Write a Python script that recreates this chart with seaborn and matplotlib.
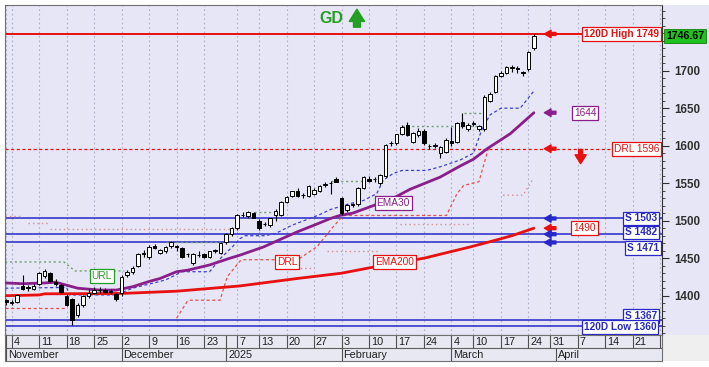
import numpy as np
import pandas as pd
import matplotlib
matplotlib.use("Agg")
import matplotlib.pyplot as plt
import matplotlib.transforms as mtransforms
from matplotlib.patches import Rectangle
import seaborn as sns

# ---------------- data ----------------
first_idx = -1  # first candle is one trading day before the "4" (Nov 4) tick
opens = [1394, 1390, 1392, 1413, 1410, 1409, 1416, 1426, 1430, 1418, 1414, 1400, 1395, 1374, 1388, 1400, 1404, 1407, 1408, 1405, 1402,
         1403, 1427, 1431, 1440, 1455, 1451, 1466, 1457, 1459, 1466, 1466, 1463, 1455, 1443, 1454, 1455, 1452, 1460, 1457,
         1471, 1482, 1490, 1508, 1506, 1510, 1500, 1495, 1494, 1508, 1508, 1525, 1533, 1540, 1534, 1533, 1536, 1540, 1548, 1550, 1555,
         1530, 1514, 1521, 1522, 1544, 1556, 1555, 1550, 1560, 1603, 1603, 1616, 1628, 1605, 1614, 1620, 1599, 1601, 1590, 1592,
         1606, 1605, 1631, 1622, 1629, 1622, 1622, 1660, 1672, 1693, 1697, 1705, 1703, 1698, 1702, 1730]
highs = [1396, 1394, 1402, 1428, 1414, 1415, 1431, 1436, 1432, 1422, 1416, 1402, 1397, 1390, 1401, 1409, 1411, 1411, 1410, 1409, 1404,
         1427, 1434, 1439, 1457, 1461, 1467, 1469, 1462, 1466, 1472, 1468, 1465, 1457, 1457, 1459, 1457, 1460, 1462, 1471,
         1483, 1491, 1509, 1512, 1513, 1512, 1502, 1498, 1504, 1516, 1526, 1533, 1540, 1543, 1537, 1547, 1543, 1547, 1552, 1553, 1558,
         1532, 1522, 1523, 1545, 1559, 1559, 1558, 1562, 1602, 1606, 1616, 1627, 1631, 1618, 1624, 1622, 1602, 1603, 1599, 1610,
         1625, 1631, 1643, 1630, 1633, 1628, 1667, 1671, 1694, 1699, 1706, 1707, 1706, 1700, 1726, 1749]
lows = [1388, 1387, 1390, 1407, 1406, 1407, 1414, 1424, 1418, 1413, 1403, 1386, 1361, 1372, 1385, 1397, 1402, 1403, 1403, 1402, 1393,
        1400, 1425, 1429, 1438, 1452, 1449, 1462, 1455, 1457, 1464, 1460, 1450, 1452, 1441, 1451, 1450, 1450, 1457, 1455,
        1469, 1480, 1488, 1505, 1504, 1503, 1488, 1493, 1492, 1500, 1506, 1523, 1531, 1532, 1530, 1531, 1534, 1538, 1545, 1536, 1551,
        1508, 1512, 1518, 1520, 1542, 1551, 1552, 1548, 1558, 1600, 1601, 1614, 1613, 1603, 1612, 1601, 1596, 1597, 1583, 1590,
        1600, 1603, 1624, 1620, 1626, 1620, 1620, 1658, 1670, 1691, 1695, 1698, 1697, 1693, 1700, 1728]
closes = [1391, 1392, 1401, 1409, 1411, 1413, 1430, 1433, 1420, 1416, 1405, 1388, 1368, 1388, 1399, 1404, 1408, 1407, 1405, 1405, 1395,
          1425, 1431, 1437, 1456, 1457, 1465, 1464, 1461, 1465, 1471, 1465, 1452, 1455, 1456, 1454, 1452, 1459, 1460, 1470,
          1482, 1490, 1508, 1507, 1511, 1504, 1490, 1496, 1503, 1513, 1525, 1532, 1539, 1533, 1534, 1546, 1541, 1546, 1549, 1550, 1552,
          1510, 1521, 1521, 1544, 1558, 1553, 1555, 1561, 1601, 1604, 1615, 1625, 1614, 1617, 1620, 1603, 1599, 1600, 1598, 1608,
          1603, 1630, 1626, 1628, 1630, 1626, 1665, 1669, 1693, 1697, 1705, 1703, 1702, 1697, 1725, 1746.67]

ema30_x = [-1.2, 2, 6, 8, 10, 12, 16, 19, 22, 25, 27, 30, 32, 36, 39.7, 41.5, 45.8, 51.9, 55, 58, 59.7, 62, 65, 69.4, 72.5,
           77.9, 81.6, 84, 86.5, 90.7, 95]
ema30_v = [1417, 1416, 1417, 1418, 1414, 1410, 1407.5, 1407.5, 1412, 1419, 1423, 1432, 1434, 1441, 1450, 1454, 1465, 1485, 1494,
           1503, 1507, 1510, 1518, 1530, 1542, 1558, 1573, 1582, 1596, 1616, 1644]
ema200_x = [-1.2, 5, 6, 20, 30, 41.5, 52, 60, 65.7, 75, 83.4, 87, 91, 95]
ema200_v = [1400, 1401, 1402.5, 1403, 1406, 1413, 1423, 1430, 1438, 1450, 1465, 1472, 1480, 1490]
band_x = [-1.2, 10, 10.5, 19, 20, 22, 28, 31, 36, 38, 40, 41.5, 42.5, 46, 48, 51, 56, 58, 61.6, 64, 66.4, 67.6, 69.4, 71,
          75.5, 78, 81.6, 84, 85.5, 87, 89, 92.5, 95]
band_v = [1410, 1411, 1401, 1401, 1404, 1410, 1421, 1432, 1432, 1450, 1464, 1476, 1480, 1480, 1483, 1494, 1508, 1515, 1523,
          1527, 1536, 1554, 1563, 1567, 1567, 1572, 1581, 1590, 1621, 1641, 1650, 1650, 1673]
drl_seg = [0, 0, 1, 1, 1, 1, 1, 1, 1, 1, 1, 1, 1, 1, 1, 1, 1, 1, 1]
drl_x = [-1.2, 10, 30, 31.9, 32.5, 37.9, 39.2, 41.5, 42, 52, 55.5, 58.5, 59.7, 60.5, 79.1, 81, 82.2, 85, 86.7]
drl_v = [1383, 1383, 1370, 1392, 1394, 1394, 1425, 1446, 1448, 1448, 1465, 1492, 1502, 1507, 1507, 1536, 1547, 1552, 1596]
url_x = [-1.2, 9.5, 11.5, 20.5]
url_v = [1445, 1445, 1433, 1433]
res_seg = [0, 0, 1, 1, 2, 2, 3, 3, 4, 4]
res_x = [28, 39, 44, 48, 58, 64, 71, 85.5, 82.2, 85.5]
res_v = [1471, 1471, 1512, 1512, 1553, 1553, 1626, 1626, 1643, 1643]
sup_seg = [0, 0, 1, 1, 2, 2, 3, 3, 4, 4, 5, 5, 6, 6, 6]
sup_x = [-1.2, 1.5, 3, 7, 7, 41.5, 50, 55, 57.3, 67, 70.7, 83.4, 89.4, 93, 94.7]
sup_v = [1506, 1506, 1497, 1497, 1489, 1489, 1436.5, 1436.5, 1460, 1460, 1495, 1495, 1534, 1534, 1554]

high_120d = 1749
low_120d = 1360
drl_level = 1596
supports = [1503, 1482, 1471, 1367]
last_close = 1746.67
ema30_last = 1644
ema200_last = 1490

week_pos = [-1, 0, 5, 10, 15, 20, 25, 30, 35, 41, 45, 50, 55, 60, 65, 70, 75, 80, 84, 89, 94, 98, 103, 108, 113, 118]
week_lab = ["", "4", "11", "18", "25", "2", "9", "16", "23", "7", "13", "20", "27", "3", "10", "17", "24",
            "4", "10", "17", "24", "31", "7", "14", "21", ""]
month_pos = [-1, 20, 39, 60, 80, 99]
month_lab = ["November", "December", "2025", "February", "March", "April"]

# ---------------- style ----------------
sns.set_theme(style="white")
plt.rcParams['font.family'] = ['Liberation Sans', 'DejaVu Sans']

W, H = 709, 367
fig = plt.figure(figsize=(W / 100, H / 100), dpi=100)
fig.patch.set_facecolor('white')


def fx(px):
    return px / W


def fy(py):
    return 1 - py / H


BG = '#E6E6F6'
RED = '#E81010'
BLUE = '#2828C8'
PURPLE = '#8A1E8A'
GREEN = '#23A023'

fig.patches.append(Rectangle((fx(662), fy(335)), fx(709) - fx(662), fy(5) - fy(335),
                             transform=fig.transFigure, fc=BG, ec='none', zorder=-5))
fig.patches.append(Rectangle((fx(662), fy(361)), fx(709) - fx(662), fy(335) - fy(361),
                             transform=fig.transFigure, fc='#EFEFEF', ec='none', zorder=-5))

ax = fig.add_axes([fx(5), fy(335), fx(662) - fx(5), fy(5) - fy(335)])
axb = fig.add_axes([fx(5), fy(361), fx(662) - fx(5), fy(335) - fy(361)])

XMIN, XMAX = -1.22, 118.3
YMIN, YMAX = 1347.6, 1787.6
ax.set_facecolor(BG)
ax.set_xlim(XMIN, XMAX)
ax.set_ylim(YMIN, YMAX)

# weekly dotted grid
for p in week_pos:
    ax.axvline(p, color='#B0B0CC', lw=0.8, ls=(0, (1.5, 2.5)), zorder=0.5)

# horizontal levels
ax.axhline(high_120d, color=RED, lw=1.4, zorder=2)
ax.axhline(drl_level, color=RED, lw=0.9, ls=(0, (2.5, 2)), zorder=2)
for s in supports + [low_120d]:
    ax.axhline(s, color=BLUE, lw=1.1, zorder=2)

# indicator lines
df_ema30 = pd.DataFrame({'x': ema30_x, 'v': ema30_v})
df_ema200 = pd.DataFrame({'x': ema200_x, 'v': ema200_v})
df_band = pd.DataFrame({'x': band_x, 'v': band_v})
df_drl = pd.DataFrame({'x': drl_x, 'v': drl_v, 'seg': drl_seg})
df_url = pd.DataFrame({'x': url_x, 'v': url_v})
df_res = pd.DataFrame({'x': res_x, 'v': res_v, 'seg': res_seg})
df_sup = pd.DataFrame({'x': sup_x, 'v': sup_v, 'seg': sup_seg})

sns.lineplot(data=df_sup, x='x', y='v', units='seg', estimator=None, ax=ax, color='#D89090',
             lw=1.0, ls=(0, (1, 2.2)), zorder=2.5)
sns.lineplot(data=df_res, x='x', y='v', units='seg', estimator=None, ax=ax, color='#70A070',
             lw=1.0, ls=(0, (1.5, 2)), zorder=2.5)
sns.lineplot(data=df_url, x='x', y='v', ax=ax, color='#70A070', lw=1.0, ls=(0, (1.5, 2)), zorder=2.5)
sns.lineplot(data=df_drl, x='x', y='v', units='seg', estimator=None, ax=ax, color='#E85050',
             lw=0.9, ls=(0, (2.5, 2)), zorder=2.6)
sns.lineplot(data=df_band, x='x', y='v', ax=ax, color='#4040D0', lw=0.9, ls=(0, (2.5, 2)), zorder=2.6)
sns.lineplot(data=df_ema200, x='x', y='v', ax=ax, color=RED, lw=2.0, zorder=3)
sns.lineplot(data=df_ema30, x='x', y='v', ax=ax, color=PURPLE, lw=2.0, zorder=3)

# candles
cx = np.arange(first_idx, first_idx + len(opens))
o = np.array(opens, float)
c = np.array(closes, float)
h = np.array(highs, float)
l = np.array(lows, float)
ax.vlines(cx, l, h, color='black', lw=0.8, zorder=4)
bottom = np.minimum(o, c)
height = np.maximum(np.abs(c - o), 0.8)
up = c >= o
ax.bar(cx[up], height[up], bottom=bottom[up], width=0.64, color='white', edgecolor='black', lw=0.7, zorder=5)
ax.bar(cx[~up], height[~up], bottom=bottom[~up], width=0.64, color='black', edgecolor='black', lw=0.7, zorder=5)


def box(x, y, s, col, ha='center', weight='normal', fs=7.3):
    ax.text(x, y, s, color=col, ha=ha, va='center', fontsize=fs, fontweight=weight, zorder=8,
            bbox=dict(boxstyle='square,pad=0.18', fc='white', ec=col, lw=0.9))


# in-plot labels
box(16.4, 1426, 'URL', GREEN)
box(69.4, 1523.6, 'EMA30', PURPLE)
box(50.1, 1445, 'DRL', RED)
box(69.6, 1445, 'EMA200', RED)

# right-hand level labels
box(117.8, high_120d, '120D High 1749', RED, ha='right', weight='bold')
box(117.8, drl_level, 'DRL 1596', RED, ha='right')
box(104.3, ema30_last, '1644', PURPLE)
box(104.2, ema200_last, '1490', RED)
box(117.4, 1503, 'S 1503', BLUE, ha='right', weight='bold')
box(117.4, 1484.3, 'S 1482', BLUE, ha='right', weight='bold')
box(117.8, 1463.6, 'S 1471', BLUE, ha='right', weight='bold')
box(117.4, 1372.9, 'S 1367', BLUE, ha='right', weight='bold')
box(117.3, 1358.3, '120D Low 1360', BLUE, ha='right', weight='bold')


def larrow(y, col):
    ax.annotate('', xy=(96.9, y), xytext=(99.0, y),
                arrowprops=dict(arrowstyle='simple,head_width=0.9,head_length=0.8,tail_width=0.35',
                                color=col, mutation_scale=6, shrinkA=0, shrinkB=0), zorder=7)


larrow(high_120d, RED)
larrow(ema30_last, PURPLE)
larrow(drl_level, RED)
larrow(ema200_last, RED)
for s in [1503, 1482, 1471]:
    larrow(s, BLUE)

ax.annotate('', xy=(103.5, 1576), xytext=(103.5, 1595),
            arrowprops=dict(arrowstyle='simple,head_width=1.0,head_length=0.8,tail_width=0.35',
                            color=RED, mutation_scale=8, shrinkA=0, shrinkB=0), zorder=7)

# GD signal
ax.text(58.1, 1770, 'GD', color=GREEN, fontsize=11.5, fontweight='bold', ha='center', va='center', zorder=8)
ax.annotate('', xy=(62.8, 1782), xytext=(62.8, 1758),
            arrowprops=dict(arrowstyle='simple,head_width=1.0,head_length=0.8,tail_width=0.45',
                            color=GREEN, mutation_scale=11, shrinkA=0, shrinkB=0), zorder=8)

# last price tag on the axis
tr = mtransforms.blended_transform_factory(ax.transAxes, ax.transData)
ax.text(1.006, last_close, '1746.67', transform=tr, ha='left', va='center', fontsize=7.6,
        fontweight='bold', color='black', clip_on=False, zorder=9,
        bbox=dict(boxstyle='square,pad=0.2', fc='#20C020', ec='#108010', lw=0.6))

# axes styling
ax.set_xticks([])
ax.yaxis.tick_right()
ax.set_yticks(np.arange(1400, 1701, 50))
ax.set_yticks(np.arange(1350, 1790, 10), minor=True)
ax.tick_params(axis='y', which='major', length=5, width=0.8, colors='#303030', labelsize=8.4, pad=4,
               right=True, left=False, labelright=True, labelleft=False)
ax.tick_params(axis='y', which='minor', length=2.5, width=0.6, colors='#303030', right=True, left=False)
for t in ax.get_yticklabels():
    t.set_fontweight('bold')
ax.set_xlabel('')
ax.set_ylabel('')
for name, sp in ax.spines.items():
    sp.set_color('#707070')
    sp.set_linewidth(0.8)
ax.spines['right'].set_color('#303030')

# date band
axb.set_facecolor('#E8E8F2')
axb.set_xlim(XMIN, XMAX)
axb.set_ylim(0, 2)
axb.set_xticks([])
axb.set_yticks([])
axb.axhline(1, color='#606060', lw=0.8)
axb.vlines(week_pos, 1, 2, color='#505050', lw=0.8)
axb.vlines(month_pos, 0, 1, color='#505050', lw=0.8)
axb.vlines([39], 1, 2, color='#505050', lw=0.8)
for p, s in zip(week_pos, week_lab):
    if s:
        axb.text(p + 0.35, 1.48, s, ha='left', va='center', fontsize=7.8, color='#202020')
for p, s in zip(month_pos, month_lab):
    axb.text(p + 0.35, 0.48, s, ha='left', va='center', fontsize=7.8, color='#202020')
for name, sp in axb.spines.items():
    sp.set_color('#707070')
    sp.set_linewidth(0.8)

fig.savefig('out.png', dpi=100, facecolor='white')
